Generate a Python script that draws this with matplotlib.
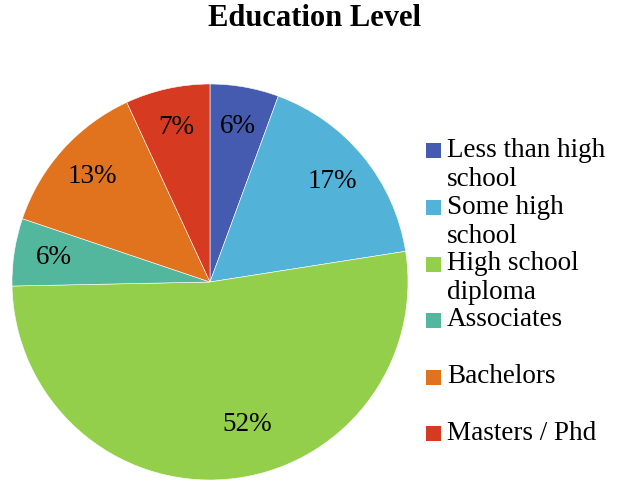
import matplotlib.pyplot as plt
from matplotlib.patches import Rectangle

# Data (share of respondents, %)
categories = ['Less than high\nschool', 'Some high\nschool', 'High school\ndiploma',
              'Associates', 'Bachelors', 'Masters / Phd']
shares = [5.6, 16.9, 52.1, 5.5, 12.9, 6.9]
colors = ['#445BAF', '#53B2D7', '#93CF4B', '#53B79E', '#E1721E', '#D63A21']

plt.rcParams['font.family'] = ['Liberation Serif', 'DejaVu Serif']

fig = plt.figure(figsize=(6.19, 4.83), dpi=100)

# Pie placed so it sits on the left like the original
ax = fig.add_axes([12 / 619, 3 / 483, 396 / 619, 396 / 483])
wedges, texts, autotexts = ax.pie(
    shares, colors=colors, startangle=90, counterclock=False,
    autopct='%.0f%%', pctdistance=0.8,
    wedgeprops=dict(edgecolor='white', linewidth=0.4),
    textprops=dict(fontsize=19.5, color='black'))
ax.set_xlim(-1, 1)
ax.set_ylim(-1, 1)

# the big slice's label sits a bit right of the slice middle, like Excel's best fit
autotexts[2].set_position((0.19, -0.72))

# Title
fig.text(315 / 619, 1 - 19 / 483, 'Education Level', ha='center', va='center',
         fontsize=22, fontweight='bold')

# Legend, Excel style: marker aligned with the first line of each label
y0 = 151
step = 56.5
for i, (label, c) in enumerate(zip(categories, colors)):
    yc = y0 + i * step
    fig.patches.append(Rectangle((426 / 619, 1 - (yc + 7.5) / 483), 15 / 619, 15 / 483,
                                 transform=fig.transFigure, facecolor=c, edgecolor='none'))
    fig.text(447 / 619, 1 - (yc - 13) / 483, label, ha='left', va='top',
             fontsize=19.5, linespacing=1.22)

fig.savefig('out.png', dpi=100)
